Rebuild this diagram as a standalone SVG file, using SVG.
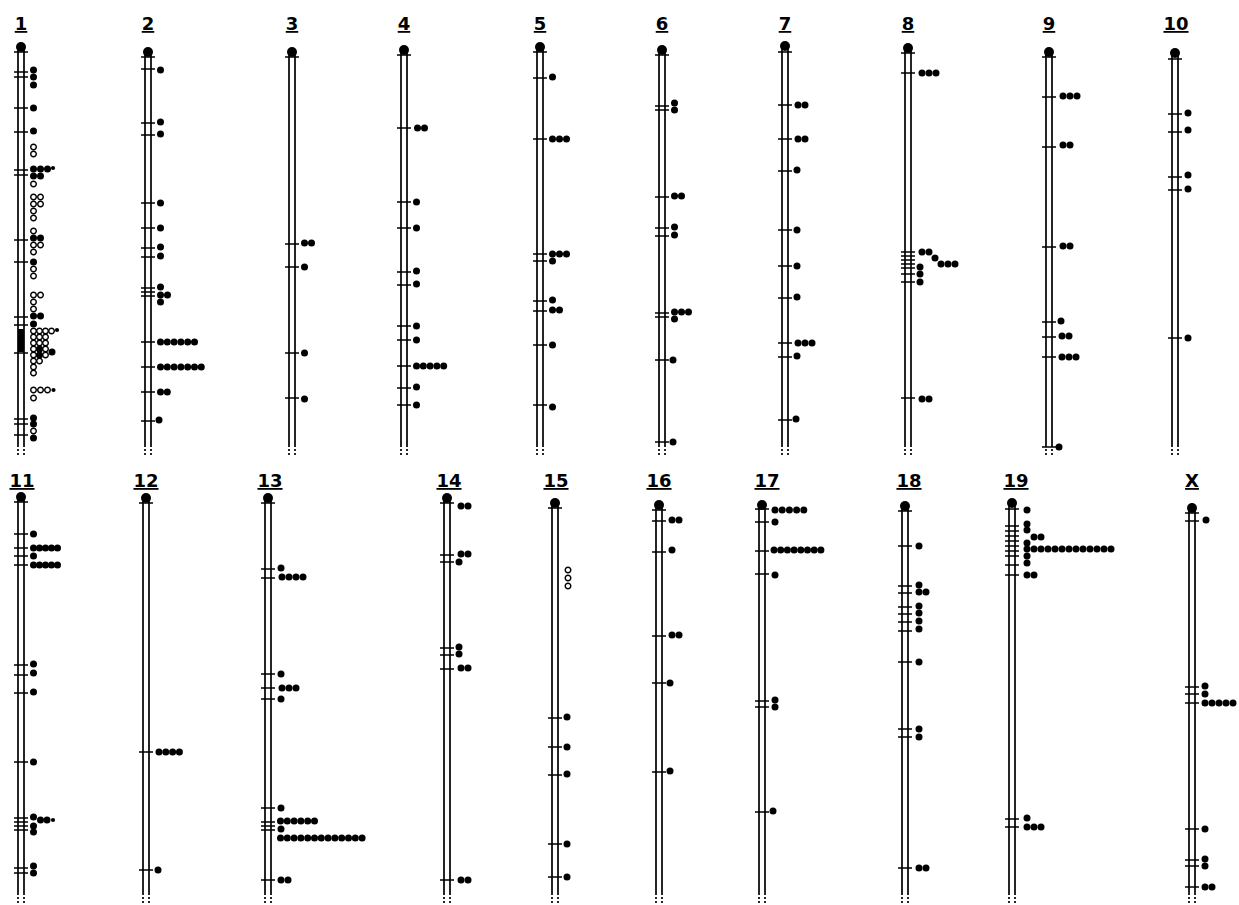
<svg xmlns="http://www.w3.org/2000/svg" width="1239" height="905" viewBox="0 0 1239 905">
<style>
.b{fill:none;stroke:#000;stroke-width:1.7}
.e{fill:none;stroke:#000;stroke-width:1.7;stroke-dasharray:2 2}
.t{fill:none;stroke:#000;stroke-width:1.7}
.lb{font-family:"DejaVu Sans",sans-serif;font-weight:bold;font-size:18px;text-anchor:middle;text-decoration:underline}
</style>
<defs>
<circle id="f" r="3.5"/>
<circle id="o" r="2.8" fill="#fff" stroke="#000" stroke-width="1.4"/>
<circle id="s" r="2.1"/>
</defs>
<rect width="1239" height="905" fill="#fff"/>

<g id="chr1" transform="translate(21,0)">
<text class="lb" x="0" y="30">1</text>
<circle cy="47" r="5"/>
<path class="b" d="M-3 47V445M3 47V445"/><path class="e" d="M-3 445V455M3 445V455"/>
<rect x="-3" y="329" width="6" height="23"/>
<path class="t" d="M-7 52h14M-7 72h14M-7 77h14M-7 108h14M-7 132h14M-7 170h14M-7 175h14M-7 240h14M-7 262h14M-7 317h14M-7 325h14M-7 353h14M-7 419h14M-7 424h14M-7 435h14"/>
<use href="#f" x="12.5" y="70"/><use href="#f" x="12.5" y="77"/><use href="#f" x="12.5" y="85"/>
<use href="#f" x="12.5" y="108"/><use href="#f" x="12.5" y="131"/>
<use href="#o" x="12.5" y="147"/><use href="#o" x="12.5" y="154"/>
<use href="#f" x="12.5" y="169"/><use href="#f" x="19.5" y="169"/><use href="#f" x="26.5" y="169"/><use href="#s" x="32" y="168"/>
<use href="#f" x="12.5" y="176"/><use href="#f" x="19.5" y="176"/><use href="#o" x="12.5" y="184"/>
<use href="#o" x="12.5" y="197"/><use href="#o" x="19.5" y="197"/><use href="#o" x="12.5" y="204"/><use href="#o" x="19.5" y="204"/><use href="#o" x="12.5" y="211"/><use href="#o" x="12.5" y="218"/>
<use href="#o" x="12.5" y="231"/><use href="#f" x="12.5" y="238"/><use href="#f" x="19.5" y="238"/><use href="#o" x="12.5" y="245"/><use href="#o" x="19.5" y="245"/><use href="#o" x="12.5" y="252"/>
<use href="#f" x="12.5" y="262"/><use href="#o" x="12.5" y="269"/><use href="#o" x="12.5" y="276"/>
<use href="#o" x="12.5" y="295"/><use href="#o" x="19.5" y="295"/><use href="#o" x="12.5" y="302"/><use href="#o" x="12.5" y="309"/><use href="#f" x="12.5" y="316"/><use href="#f" x="19.5" y="316"/>
<use href="#f" x="12.5" y="324"/>
<use href="#o" x="12.5" y="331"/><use href="#o" x="18.5" y="331"/><use href="#o" x="24.5" y="331"/><use href="#o" x="30.5" y="331"/><use href="#s" x="36" y="330"/>
<use href="#o" x="12.5" y="337"/><use href="#o" x="18.5" y="337"/><use href="#o" x="24.5" y="337"/>
<use href="#o" x="12.5" y="343"/><use href="#o" x="18.5" y="343"/><use href="#o" x="24.5" y="343"/>
<use href="#o" x="12.5" y="349"/><use href="#f" x="18.5" y="349"/><use href="#o" x="24.5" y="349"/><use href="#f" x="31" y="352"/>
<use href="#o" x="12.5" y="355"/><use href="#f" x="18.5" y="355"/><use href="#o" x="24.5" y="355"/>
<use href="#o" x="12.5" y="361"/><use href="#o" x="18.5" y="361"/><use href="#o" x="12.5" y="367"/><use href="#o" x="12.5" y="373"/>
<use href="#o" x="12.5" y="390"/><use href="#o" x="19.5" y="390"/><use href="#o" x="26.5" y="390"/><use href="#s" x="32.5" y="390"/>
<use href="#o" x="12.5" y="398"/>
<use href="#f" x="12.5" y="418"/><use href="#f" x="12.5" y="424"/><use href="#o" x="12.5" y="431"/><use href="#f" x="12.5" y="438"/>
</g>

<g id="chr2" transform="translate(148,0)">
<text class="lb" x="0" y="30">2</text>
<circle cy="52" r="5"/>
<path class="b" d="M-3 52V445M3 52V445"/><path class="e" d="M-3 445V455M3 445V455"/>
<path class="t" d="M-7 57h14M-7 69h14M-7 123h14M-7 135h14M-7 203h14M-7 228h14M-7 248h14M-7 257h14M-7 288h14M-7 292h14M-7 296h14M-7 342h14M-7 367h14M-7 392h14M-7 421h14"/>
<use href="#f" x="12.5" y="70"/><use href="#f" x="12.5" y="122"/><use href="#f" x="12.5" y="134"/><use href="#f" x="12.5" y="203"/><use href="#f" x="12.5" y="228"/><use href="#f" x="12.5" y="247"/><use href="#f" x="12.5" y="256"/>
<use href="#f" x="12.5" y="287"/><use href="#f" x="12.5" y="295"/><use href="#f" x="19.5" y="295"/><use href="#f" x="12.5" y="302"/>
<use href="#f" x="12.5" y="342"/><use href="#f" x="19.3" y="342"/><use href="#f" x="26.1" y="342"/><use href="#f" x="32.9" y="342"/><use href="#f" x="39.7" y="342"/><use href="#f" x="46.5" y="342"/>
<use href="#f" x="12.5" y="367"/><use href="#f" x="19.3" y="367"/><use href="#f" x="26.1" y="367"/><use href="#f" x="32.9" y="367"/><use href="#f" x="39.7" y="367"/><use href="#f" x="46.5" y="367"/><use href="#f" x="53.3" y="367"/>
<use href="#f" x="12.5" y="392"/><use href="#f" x="19.3" y="392"/>
<use href="#f" x="11" y="420"/>
</g>

<g id="chr3" transform="translate(292,0)">
<text class="lb" x="0" y="30">3</text>
<circle cy="52" r="5"/>
<path class="b" d="M-3 52V445M3 52V445"/><path class="e" d="M-3 445V455M3 445V455"/>
<path class="t" d="M-7 57h14M-7 244h14M-7 267h14M-7 353h14M-7 398h14"/>
<use href="#f" x="12.5" y="243"/><use href="#f" x="19.5" y="243"/><use href="#f" x="12.5" y="267"/><use href="#f" x="12.5" y="353"/><use href="#f" x="12.5" y="399"/>
</g>

<g id="chr4" transform="translate(404,0)">
<text class="lb" x="0" y="30">4</text>
<circle cy="50" r="5"/>
<path class="b" d="M-3 50V445M3 50V445"/><path class="e" d="M-3 445V455M3 445V455"/>
<path class="t" d="M-7 55h14M-7 128h14M-7 202h14M-7 228h14M-7 272h14M-7 285h14M-7 326h14M-7 340h14M-7 366h14M-7 388h14M-7 405h14"/>
<use href="#f" x="13.5" y="128"/><use href="#f" x="20.5" y="128"/>
<use href="#f" x="12.5" y="202"/><use href="#f" x="12.5" y="228"/><use href="#f" x="12.5" y="271"/><use href="#f" x="12.5" y="284"/><use href="#f" x="12.5" y="326"/><use href="#f" x="12.5" y="340"/>
<use href="#f" x="12.5" y="366"/><use href="#f" x="19.3" y="366"/><use href="#f" x="26.1" y="366"/><use href="#f" x="32.9" y="366"/><use href="#f" x="39.7" y="366"/>
<use href="#f" x="12.5" y="387"/><use href="#f" x="12.5" y="405"/>
</g>

<g id="chr5" transform="translate(540,0)">
<text class="lb" x="0" y="30">5</text>
<circle cy="47" r="5"/>
<path class="b" d="M-3 47V445M3 47V445"/><path class="e" d="M-3 445V455M3 445V455"/>
<path class="t" d="M-7 52h14M-7 78h14M-7 139h14M-7 254h14M-7 261h14M-7 301h14M-7 311h14M-7 345h14M-7 405h14"/>
<use href="#f" x="12.5" y="77"/>
<use href="#f" x="12.5" y="139"/><use href="#f" x="19.5" y="139"/><use href="#f" x="26.5" y="139"/>
<use href="#f" x="12.5" y="254"/><use href="#f" x="19.5" y="254"/><use href="#f" x="26.5" y="254"/><use href="#f" x="12.5" y="261"/>
<use href="#f" x="12.5" y="300"/><use href="#f" x="12.5" y="310"/><use href="#f" x="19.5" y="310"/>
<use href="#f" x="12.5" y="345"/><use href="#f" x="12.5" y="407"/>
</g>

<g id="chr6" transform="translate(662,0)">
<text class="lb" x="0" y="30">6</text>
<circle cy="50" r="5"/>
<path class="b" d="M-3 50V445M3 50V445"/><path class="e" d="M-3 445V455M3 445V455"/>
<path class="t" d="M-7 55h14M-7 106h14M-7 110h14M-7 197h14M-7 228h14M-7 236h14M-7 313h14M-7 317h14M-7 360h14M-7 442h14"/>
<use href="#f" x="12.5" y="103"/><use href="#f" x="12.5" y="110"/>
<use href="#f" x="12.5" y="196"/><use href="#f" x="19.5" y="196"/>
<use href="#f" x="12.5" y="227"/><use href="#f" x="12.5" y="235"/>
<use href="#f" x="12.5" y="312"/><use href="#f" x="19.5" y="312"/><use href="#f" x="26.5" y="312"/><use href="#f" x="12.5" y="319"/>
<use href="#f" x="11" y="360"/><use href="#f" x="11" y="442"/>
</g>

<g id="chr7" transform="translate(785,0)">
<text class="lb" x="0" y="30">7</text>
<circle cy="46" r="5"/>
<path class="b" d="M-3 46V445M3 46V445"/><path class="e" d="M-3 445V455M3 445V455"/>
<path class="t" d="M-7 52h14M-7 105h14M-7 139h14M-7 171h14M-7 230h14M-7 266h14M-7 298h14M-7 343h14M-7 357h14M-7 420h14"/>
<use href="#f" x="13" y="105"/><use href="#f" x="20" y="105"/>
<use href="#f" x="13" y="139"/><use href="#f" x="20" y="139"/>
<use href="#f" x="12" y="170"/><use href="#f" x="12" y="230"/><use href="#f" x="12" y="266"/><use href="#f" x="12" y="297"/>
<use href="#f" x="13" y="343"/><use href="#f" x="20" y="343"/><use href="#f" x="27" y="343"/>
<use href="#f" x="12" y="356"/><use href="#f" x="11" y="419"/>
</g>

<g id="chr8" transform="translate(908,0)">
<text class="lb" x="0" y="30">8</text>
<circle cy="48" r="5"/>
<path class="b" d="M-3 48V445M3 48V445"/><path class="e" d="M-3 445V455M3 445V455"/>
<path class="t" d="M-7 53h14M-7 73h14M-7 252h14M-7 256h14M-7 260h14M-7 264h14M-7 268h14M-7 274h14M-7 282h14M-7 398h14"/>
<use href="#f" x="14" y="73"/><use href="#f" x="21" y="73"/><use href="#f" x="28" y="73"/>
<use href="#f" x="14" y="252"/><use href="#f" x="21" y="252"/><use href="#f" x="27" y="258"/>
<use href="#f" x="33" y="264"/><use href="#f" x="40" y="264"/><use href="#f" x="47" y="264"/>
<use href="#f" x="12" y="267"/><use href="#f" x="12" y="274"/><use href="#f" x="12" y="282"/>
<use href="#f" x="14" y="399"/><use href="#f" x="21" y="399"/>
</g>

<g id="chr9" transform="translate(1049,0)">
<text class="lb" x="0" y="30">9</text>
<circle cy="52" r="5"/>
<path class="b" d="M-3 52V445M3 52V445"/><path class="e" d="M-3 445V455M3 445V455"/>
<path class="t" d="M-7 57h14M-7 97h14M-7 147h14M-7 247h14M-7 322h14M-7 337h14M-7 357h14M-7 447h14"/>
<use href="#f" x="14" y="96"/><use href="#f" x="21" y="96"/><use href="#f" x="28" y="96"/>
<use href="#f" x="14" y="145"/><use href="#f" x="21" y="145"/>
<use href="#f" x="14" y="246"/><use href="#f" x="21" y="246"/>
<use href="#f" x="12" y="321"/><use href="#f" x="13" y="336"/><use href="#f" x="20" y="336"/>
<use href="#f" x="13" y="357"/><use href="#f" x="20" y="357"/><use href="#f" x="27" y="357"/>
<use href="#f" x="10" y="447"/>
</g>

<g id="chr10" transform="translate(1175,0)">
<text class="lb" x="1" y="30">10</text>
<circle cy="53" r="5"/>
<path class="b" d="M-3 53V445M3 53V445"/><path class="e" d="M-3 445V455M3 445V455"/>
<path class="t" d="M-7 59h14M-7 114h14M-7 132h14M-7 177h14M-7 190h14M-7 338h14"/>
<use href="#f" x="13" y="113"/><use href="#f" x="13" y="130"/><use href="#f" x="13" y="175"/><use href="#f" x="13" y="189"/><use href="#f" x="13" y="338"/>
</g>

<g id="chr11" transform="translate(21,0)">
<text class="lb" x="1" y="487">11</text>
<circle cy="497" r="5"/>
<path class="b" d="M-3 497V893M3 497V893"/><path class="e" d="M-3 893V903M3 893V903"/>
<path class="t" d="M-7 502h14M-7 534h14M-7 548h14M-7 556h14M-7 565h14M-7 665h14M-7 675h14M-7 693h14M-7 762h14M-7 818h14M-7 822h14M-7 826h14M-7 830h14M-7 868h14M-7 873h14"/>
<use href="#f" x="12.5" y="534"/>
<use href="#f" x="12.5" y="548"/><use href="#f" x="18.5" y="548"/><use href="#f" x="24.5" y="548"/><use href="#f" x="30.5" y="548"/><use href="#f" x="36.5" y="548"/>
<use href="#f" x="12.5" y="556"/>
<use href="#f" x="12.5" y="565"/><use href="#f" x="18.5" y="565"/><use href="#f" x="24.5" y="565"/><use href="#f" x="30.5" y="565"/><use href="#f" x="36.5" y="565"/>
<use href="#f" x="12.5" y="664"/><use href="#f" x="12.5" y="673"/><use href="#f" x="12.5" y="692"/><use href="#f" x="12.5" y="762"/>
<use href="#f" x="12.5" y="817"/><use href="#f" x="19.5" y="820"/><use href="#f" x="26" y="820"/><use href="#s" x="32" y="820"/>
<use href="#f" x="12.5" y="826"/><use href="#f" x="12.5" y="832"/>
<use href="#f" x="12.5" y="866"/><use href="#f" x="12.5" y="873"/>
</g>

<g id="chr12" transform="translate(146,0)">
<text class="lb" x="0" y="487">12</text>
<circle cy="498" r="5"/>
<path class="b" d="M-3 498V893M3 498V893"/><path class="e" d="M-3 893V903M3 893V903"/>
<path class="t" d="M-7 503h14M-7 752h14M-7 870h14"/>
<use href="#f" x="13" y="752"/><use href="#f" x="19.8" y="752"/><use href="#f" x="26.6" y="752"/><use href="#f" x="33.4" y="752"/>
<use href="#f" x="12" y="870"/>
</g>

<g id="chr13" transform="translate(268,0)">
<text class="lb" x="2" y="487">13</text>
<circle cy="498" r="5"/>
<path class="b" d="M-3 498V893M3 498V893"/><path class="e" d="M-3 893V903M3 893V903"/>
<path class="t" d="M-7 503h14M-7 569h14M-7 578h14M-7 674h14M-7 688h14M-7 699h14M-7 808h14M-7 822h14M-7 826h14M-7 830h14M-7 880h14"/>
<use href="#f" x="13" y="568"/>
<use href="#f" x="14" y="577"/><use href="#f" x="21" y="577"/><use href="#f" x="28" y="577"/><use href="#f" x="35" y="577"/>
<use href="#f" x="13" y="674"/>
<use href="#f" x="14" y="688"/><use href="#f" x="21" y="688"/><use href="#f" x="28" y="688"/>
<use href="#f" x="13" y="699"/><use href="#f" x="13" y="808"/>
<use href="#f" x="12.5" y="821"/><use href="#f" x="19.3" y="821"/><use href="#f" x="26.1" y="821"/><use href="#f" x="32.9" y="821"/><use href="#f" x="39.7" y="821"/><use href="#f" x="46.5" y="821"/>
<use href="#f" x="13" y="829"/>
<use href="#f" x="12.5" y="838"/><use href="#f" x="19.3" y="838"/><use href="#f" x="26.1" y="838"/><use href="#f" x="32.9" y="838"/><use href="#f" x="39.7" y="838"/><use href="#f" x="46.5" y="838"/><use href="#f" x="53.3" y="838"/><use href="#f" x="60.1" y="838"/><use href="#f" x="66.9" y="838"/><use href="#f" x="73.7" y="838"/><use href="#f" x="80.5" y="838"/><use href="#f" x="87.3" y="838"/><use href="#f" x="94.1" y="838"/>
<use href="#f" x="13" y="880"/><use href="#f" x="20" y="880"/>
</g>

<g id="chr14" transform="translate(447,0)">
<text class="lb" x="2" y="487">14</text>
<circle cy="498" r="5"/>
<path class="b" d="M-3 498V893M3 498V893"/><path class="e" d="M-3 893V903M3 893V903"/>
<path class="t" d="M-7 503h14M-7 555h14M-7 562h14M-7 648h14M-7 655h14M-7 669h14M-7 880h14"/>
<use href="#f" x="14" y="506"/><use href="#f" x="21" y="506"/>
<use href="#f" x="14" y="554"/><use href="#f" x="21" y="554"/><use href="#f" x="12" y="562"/>
<use href="#f" x="12" y="647"/><use href="#f" x="12" y="654"/>
<use href="#f" x="14" y="668"/><use href="#f" x="21" y="668"/>
<use href="#f" x="14" y="880"/><use href="#f" x="21" y="880"/>
</g>

<g id="chr15" transform="translate(555,0)">
<text class="lb" x="1" y="487">15</text>
<circle cy="503" r="5"/>
<path class="b" d="M-3 503V893M3 503V893"/><path class="e" d="M-3 893V903M3 893V903"/>
<path class="t" d="M-7 508h14M-7 718h14M-7 747h14M-7 775h14M-7 844h14M-7 877h14"/>
<use href="#o" x="13" y="570"/><use href="#o" x="13" y="578"/><use href="#o" x="13" y="586"/>
<use href="#f" x="12" y="717"/><use href="#f" x="12" y="747"/><use href="#f" x="12" y="774"/><use href="#f" x="12" y="844"/><use href="#f" x="12" y="877"/>
</g>

<g id="chr16" transform="translate(659,0)">
<text class="lb" x="0" y="487">16</text>
<circle cy="505" r="5"/>
<path class="b" d="M-3 505V893M3 505V893"/><path class="e" d="M-3 893V903M3 893V903"/>
<path class="t" d="M-7 510h14M-7 521h14M-7 552h14M-7 636h14M-7 683h14M-7 772h14"/>
<use href="#f" x="13" y="520"/><use href="#f" x="20" y="520"/><use href="#f" x="13" y="550"/>
<use href="#f" x="13" y="635"/><use href="#f" x="20" y="635"/>
<use href="#f" x="11" y="683"/><use href="#f" x="11" y="771"/>
</g>

<g id="chr17" transform="translate(762,0)">
<text class="lb" x="5" y="487">17</text>
<circle cy="505" r="5"/>
<path class="b" d="M-3 505V893M3 505V893"/><path class="e" d="M-3 893V903M3 893V903"/>
<path class="t" d="M-7 509h14M-7 522h14M-7 551h14M-7 574h14M-7 701h14M-7 707h14M-7 812h14"/>
<use href="#f" x="13" y="510"/><use href="#f" x="20.2" y="510"/><use href="#f" x="27.4" y="510"/><use href="#f" x="34.6" y="510"/><use href="#f" x="41.8" y="510"/>
<use href="#f" x="13" y="522"/>
<use href="#f" x="12" y="550"/><use href="#f" x="18.7" y="550"/><use href="#f" x="25.4" y="550"/><use href="#f" x="32.1" y="550"/><use href="#f" x="38.8" y="550"/><use href="#f" x="45.5" y="550"/><use href="#f" x="52.2" y="550"/><use href="#f" x="58.9" y="550"/>
<use href="#f" x="13" y="575"/><use href="#f" x="13" y="700"/><use href="#f" x="13" y="707"/><use href="#f" x="11" y="811"/>
</g>

<g id="chr18" transform="translate(905,0)">
<text class="lb" x="4" y="487">18</text>
<circle cy="506" r="5"/>
<path class="b" d="M-3 506V893M3 506V893"/><path class="e" d="M-3 893V903M3 893V903"/>
<path class="t" d="M-7 511h14M-7 546h14M-7 586h14M-7 593h14M-7 607h14M-7 614h14M-7 622h14M-7 631h14M-7 662h14M-7 729h14M-7 737h14M-7 868h14"/>
<use href="#f" x="14" y="546"/><use href="#f" x="14" y="585"/>
<use href="#f" x="14" y="592"/><use href="#f" x="21" y="592"/>
<use href="#f" x="14" y="606"/><use href="#f" x="14" y="613"/><use href="#f" x="14" y="621"/><use href="#f" x="14" y="629"/>
<use href="#f" x="14" y="662"/><use href="#f" x="14" y="729"/><use href="#f" x="14" y="737"/>
<use href="#f" x="14" y="868"/><use href="#f" x="21" y="868"/>
</g>

<g id="chr19" transform="translate(1012,0)">
<text class="lb" x="4" y="487">19</text>
<circle cy="503" r="5"/>
<path class="b" d="M-3 503V893M3 503V893"/><path class="e" d="M-3 893V903M3 893V903"/>
<path class="t" d="M-7 509h14M-7 526h14M-7 531h14M-7 536h14M-7 541h14M-7 546h14M-7 551h14M-7 556h14M-7 565h14M-7 575h14M-7 819h14M-7 827h14"/>
<use href="#f" x="15" y="510"/><use href="#f" x="15" y="524"/><use href="#f" x="15" y="530"/>
<use href="#f" x="22" y="537"/><use href="#f" x="29" y="537"/><use href="#f" x="15" y="543"/>
<use href="#f" x="15" y="549"/><use href="#f" x="22" y="549"/><use href="#f" x="29" y="549"/><use href="#f" x="36" y="549"/><use href="#f" x="43" y="549"/><use href="#f" x="50" y="549"/><use href="#f" x="57" y="549"/><use href="#f" x="64" y="549"/><use href="#f" x="71" y="549"/><use href="#f" x="78" y="549"/><use href="#f" x="85" y="549"/><use href="#f" x="92" y="549"/><use href="#f" x="99" y="549"/>
<use href="#f" x="15" y="556"/><use href="#f" x="15" y="563"/>
<use href="#f" x="15" y="575"/><use href="#f" x="22" y="575"/>
<use href="#f" x="15" y="818"/>
<use href="#f" x="15" y="827"/><use href="#f" x="22" y="827"/><use href="#f" x="29" y="827"/>
</g>

<g id="chrX" transform="translate(1192,0)">
<text class="lb" x="0" y="487">X</text>
<circle cy="508" r="5"/>
<path class="b" d="M-3 508V893M3 508V893"/><path class="e" d="M-3 893V903M3 893V903"/>
<path class="t" d="M-7 513h14M-7 521h14M-7 687h14M-7 694h14M-7 703h14M-7 829h14M-7 860h14M-7 866h14M-7 887h14"/>
<use href="#f" x="14" y="520"/><use href="#f" x="13" y="686"/><use href="#f" x="13" y="694"/>
<use href="#f" x="13" y="703"/><use href="#f" x="20" y="703"/><use href="#f" x="27" y="703"/><use href="#f" x="34" y="703"/><use href="#f" x="41" y="703"/>
<use href="#f" x="13" y="829"/><use href="#f" x="13" y="859"/><use href="#f" x="13" y="866"/>
<use href="#f" x="13" y="887"/><use href="#f" x="20" y="887"/>
</g>
</svg>
